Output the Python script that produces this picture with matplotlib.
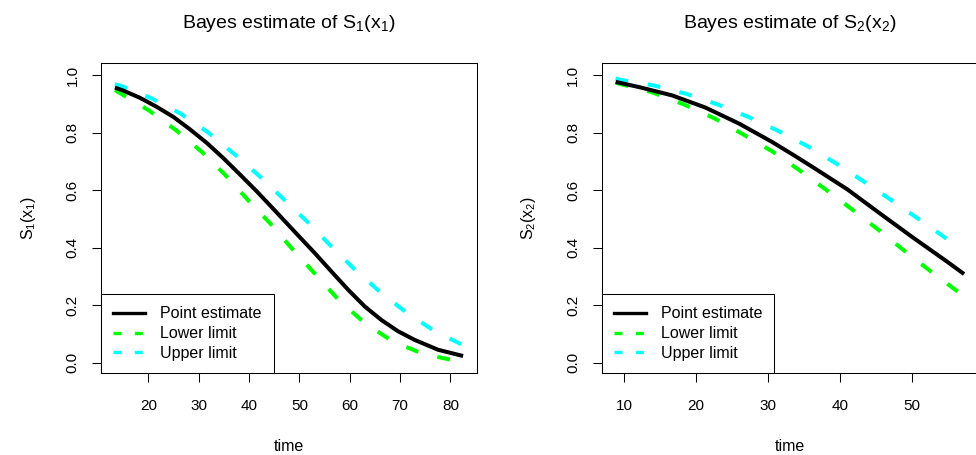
import matplotlib
matplotlib.use("Agg")
import matplotlib.pyplot as plt
from matplotlib.lines import Line2D

plt.rcParams["font.family"] = ["Liberation Sans", "DejaVu Sans"]
plt.rcParams["mathtext.fontset"] = "custom"
plt.rcParams["mathtext.rm"] = "Liberation Sans"
plt.rcParams["mathtext.it"] = "Liberation Sans"

# Panel 1: S1(x1)
t1_est = [13.37, 15.0, 18.3, 21.6, 25.0, 28.2, 31.6, 34.9, 38.2, 41.5, 44.8, 49.6,
          53.1, 56.4, 59.7, 63.0, 66.3, 69.6, 72.9, 77.5, 82.5]
s1_est = [0.956, 0.946, 0.921, 0.890, 0.854, 0.812, 0.764, 0.711, 0.654, 0.596, 0.535, 0.445,
          0.380, 0.316, 0.253, 0.195, 0.148, 0.109, 0.079, 0.045, 0.023]
t1_low = [13.37, 14.3, 20.1, 25.5, 30.6, 35.3, 39.8, 44.3, 48.8, 53.3, 57.8, 62.9,
          68.4, 74.6, 81.0, 82.5]
s1_low = [0.947, 0.938, 0.877, 0.808, 0.733, 0.652, 0.565, 0.482, 0.391, 0.305, 0.218, 0.139,
          0.075, 0.030, 0.007, 0.005]
t1_up = [13.37, 14.3, 20.5, 26.4, 31.9, 37.1, 42.1, 46.9, 51.8, 56.4, 61.1, 66.2,
         71.5, 77.0, 82.5]
s1_up = [0.968, 0.964, 0.920, 0.866, 0.800, 0.725, 0.648, 0.568, 0.486, 0.403, 0.322, 0.243,
         0.171, 0.108, 0.061]

# Panel 2: S2(x2)
t2_est = [8.85, 12.1, 16.7, 21.3, 26.0, 30.6, 33.8, 36.4, 41.0, 45.6, 50.2, 54.9, 57.25]
s2_est = [0.976, 0.958, 0.929, 0.887, 0.831, 0.767, 0.718, 0.677, 0.603, 0.518, 0.434, 0.351, 0.308]
t2_low = [8.85, 9.3, 13.9, 18.3, 22.6, 26.6, 30.7, 34.5, 38.3, 42.0, 45.7, 49.3, 53.0, 56.7, 57.25]
s2_low = [0.973, 0.970, 0.940, 0.898, 0.849, 0.793, 0.733, 0.667, 0.597, 0.527, 0.455, 0.382,
          0.310, 0.241, 0.235]
t2_up = [8.85, 9.4, 14.1, 18.6, 23.0, 27.3, 31.5, 35.7, 39.7, 43.6, 47.5, 51.3, 55.1, 57.25]
s2_up = [0.988, 0.984, 0.964, 0.935, 0.898, 0.854, 0.805, 0.750, 0.689, 0.625, 0.559, 0.493,
         0.426, 0.400]

yticks = [0.0, 0.2, 0.4, 0.6, 0.8, 1.0]
xticks1 = [20, 30, 40, 50, 60, 70, 80]
xticks2 = [10, 20, 30, 40, 50]
legend_labels = ["Point estimate", "Lower limit", "Upper limit"]

GREEN = "#00FF00"
CYAN = "#00FFFF"

fig = plt.figure(figsize=(9.76, 4.55), dpi=100)
W, H = 976, 455
ax1 = fig.add_axes([101 / W, (H - 373) / H, 376 / W, 310 / H])
ax2 = fig.add_axes([601.7 / W, (H - 373) / H, 376.3 / W, 310 / H])


def draw_panel(ax, t_est, s_est, t_low, s_low, t_up, s_up, xticks, title, ylab):
    ax.plot(t_est, s_est, color="black", lw=2.9, solid_capstyle="butt",
            solid_joinstyle="round", zorder=3)
    ax.plot(t_low, s_low, color=GREEN, lw=2.9, dashes=(3.2, 4.9), dash_capstyle="butt")
    ax.plot(t_up, s_up, color=CYAN, lw=2.9, dashes=(3.2, 4.9), dash_capstyle="butt")

    lo, hi = t_est[0], t_est[-1]
    ext = 0.04 * (hi - lo)
    ax.set_xlim(lo - ext, hi + ext)
    ax.set_ylim(-0.036, 1.0417)

    ax.set_xticks(xticks)
    ax.set_yticks(yticks)
    ax.set_yticklabels([f"{v:.1f}" for v in yticks])
    ax.tick_params(axis="both", direction="out", length=6.5, width=0.75, labelsize=11)
    ax.tick_params(axis="x", pad=12)
    ax.tick_params(axis="y", pad=9, labelrotation=90)
    for lab in ax.get_yticklabels():
        lab.set_va("center")
    for sp in ax.spines.values():
        sp.set_linewidth(0.75)

    ax.set_title(title, fontsize=14, pad=25)
    ax.set_xlabel("time", fontsize=11.5)
    ax.xaxis.set_label_coords(0.5, -0.212)
    ax.set_ylabel(ylab, fontsize=11.5)
    ax.yaxis.set_label_coords(-0.168, 0.5)

    handles = [
        Line2D([], [], color="black", lw=2.4),
        Line2D([], [], color=GREEN, lw=2.4, dashes=(2.4, 4.0), dash_capstyle="butt"),
        Line2D([], [], color=CYAN, lw=2.4, dashes=(2.4, 4.0), dash_capstyle="butt"),
    ]
    leg = ax.legend(handles, legend_labels, loc="lower left", fontsize=11.5,
                    frameon=True, fancybox=False, edgecolor="black", framealpha=1,
                    borderaxespad=0, borderpad=0.75, labelspacing=0.3,
                    handlelength=2.0, handletextpad=0.95)
    leg.get_frame().set_linewidth(0.75)


draw_panel(ax1, t1_est, s1_est, t1_low, s1_low, t1_up, s1_up, xticks1,
           "Bayes estimate of S$_1$(x$_1$)", "S$_1$(x$_1$)")
draw_panel(ax2, t2_est, s2_est, t2_low, s2_low, t2_up, s2_up, xticks2,
           "Bayes estimate of S$_2$(x$_2$)", "S$_2$(x$_2$)")

fig.savefig("out.png", dpi=100)
